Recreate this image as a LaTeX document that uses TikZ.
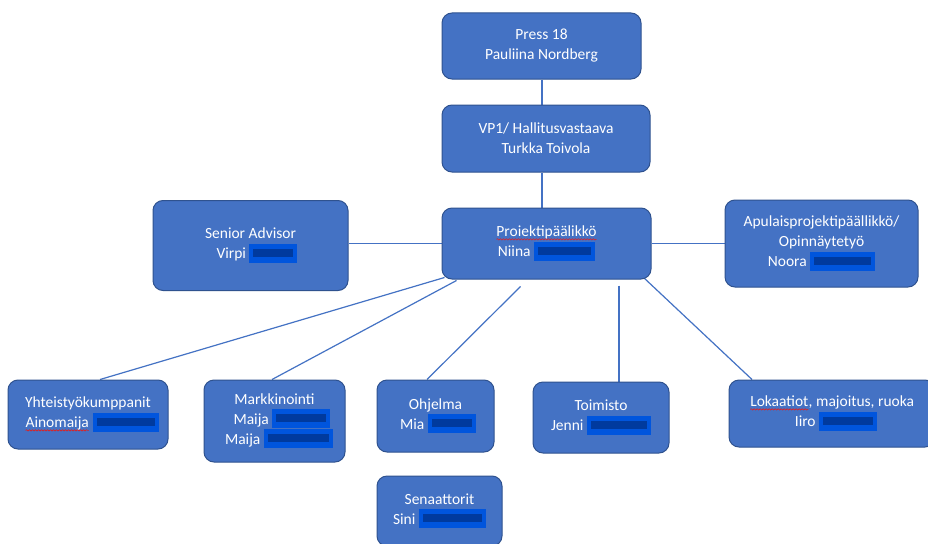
\documentclass[tikz,border=0pt]{standalone}
\usepackage{fontspec}
\setmainfont{Carlito}
\usetikzlibrary{backgrounds,decorations.pathmorphing,calc}
\definecolor{boxfill}{HTML}{4472C4}
\definecolor{boxedge}{HTML}{2F528F}
\definecolor{linkcol}{HTML}{4472C4}
\definecolor{redout}{HTML}{0055DD}
\definecolor{redin}{HTML}{003A9E}
\definecolor{wavy}{HTML}{E02020}
\newcommand\hid[1]{\makebox[#1][l]{\rlap{\textcolor{redout}{\rule[-4pt]{#1}{19pt}}}\hspace{4pt}\textcolor{redin}{\rule[2pt]{\dimexpr#1-8pt\relax}{8pt}}}}
\newcommand\wav[1]{\tikz[baseline=(w.base)]{\node[shape=rectangle,anchor=center,inner sep=0pt,outer sep=0pt,minimum width=0pt,minimum height=0pt,draw=none,fill=none,text=white,rounded corners=0pt](w){#1};\draw[draw=wavy,line width=0.6pt,rounded corners=0pt,decorate,decoration={snake,amplitude=0.7pt,segment length=3pt}]([yshift=-2.5pt]w.base west)--([yshift=-2.5pt]w.base east);}}
\tikzset{
  orgbox/.style={rectangle,rounded corners=10pt,fill=boxfill,draw=boxedge,line width=1pt,
    text=white,align=center,inner sep=0pt,font=\fontsize{15.5}{20}\selectfont},
  link/.style={draw=linkcol,line width=1.2pt}
}
\begin{document}
\begin{tikzpicture}[x=1pt,y=-1pt]
\useasboundingbox (0,0) rectangle (928,543);
\clip (0,0) rectangle (928,543);
\node[orgbox,minimum width=199pt,minimum height=66pt] (press) at (541.5,46) {Press 18\\Pauliina Nordberg};
\node[orgbox,minimum width=208pt,minimum height=67pt] (vp) at (546,138.5) {VP1/ Hallitusvastaava\\Turkka Toivola};
\node[orgbox,minimum width=209pt,minimum height=71pt] (proj) at (546.5,243.5) {\wav{Proiektipäälikkö}\\Niina \hid{61pt}};
\node[orgbox,minimum width=195pt,minimum height=90pt] (senior) at (250.5,245.5) {Senior Advisor\\\hspace*{13pt}Virpi \hid{48pt}};
\node[orgbox,minimum width=193pt,minimum height=87pt] (apul) at (821.5,243.5) {Apulaisprojektipäällikkö/\\Opinnäytetyö\\Noora \hid{65pt}};
\node[orgbox,minimum width=160pt,minimum height=69pt] (yht) at (88,414.5) {Yhteistyökumppanit\\\hspace*{8pt}\wav{Ainomaija} \hid{66pt}};
\node[orgbox,minimum width=141pt,minimum height=82pt] (mark) at (274.5,421) {Markkinointi\\\hspace*{15pt}Maija \hid{58pt}\\\hspace*{9pt}Maija \hid{69pt}};
\node[orgbox,minimum width=117pt,minimum height=72pt] (ohj) at (435.5,416) {Ohjelma\\\hspace*{5pt}Mia \hid{48pt}};
\node[orgbox,minimum width=136pt,minimum height=71pt] (toim) at (601,417.5) {Toimisto\\Jenni \hid{64pt}};
\node[orgbox,minimum width=125pt,minimum height=70pt] (sen) at (439.5,511) {Senaattorit\\Sini \hid{67pt}};
\node[orgbox,minimum width=206pt,minimum height=67pt] (lok) at (832,413.5) {\wav{Lokaatiot}, majoitus, ruoka\\\hspace*{8pt}Iiro \hid{58pt}};
\begin{scope}[on background layer]
\fill[white] (0,0) rectangle (928,543);
\draw[link] (press.south -| 542,0) -- (vp.north -| 542,0);
\draw[link] (vp.south -| 542,0) -- (proj.north -| 542,0);
\draw[link] (proj.west) -- (proj.west -| senior.east);
\draw[link] (proj.east) -- (proj.east -| apul.west);
\draw[link] ([xshift=3pt,yshift=2pt]proj.south west) -- ([xshift=12pt]yht.north);
\draw[link] ([xshift=15pt,yshift=-1pt]proj.south west) -- ([xshift=-2.5pt]mark.north);
\draw[link] ([xshift=-26pt,yshift=-7pt]proj.south) -- ([xshift=-8.5pt]ohj.north);
\draw[link] ([xshift=72.5pt,yshift=-6pt]proj.south) -- ([xshift=18pt]toim.north);
\draw[link] ([xshift=-8pt,yshift=2pt]proj.south east) -- ([xshift=-80pt]lok.north);
\end{scope}
\end{tikzpicture}
\end{document}
